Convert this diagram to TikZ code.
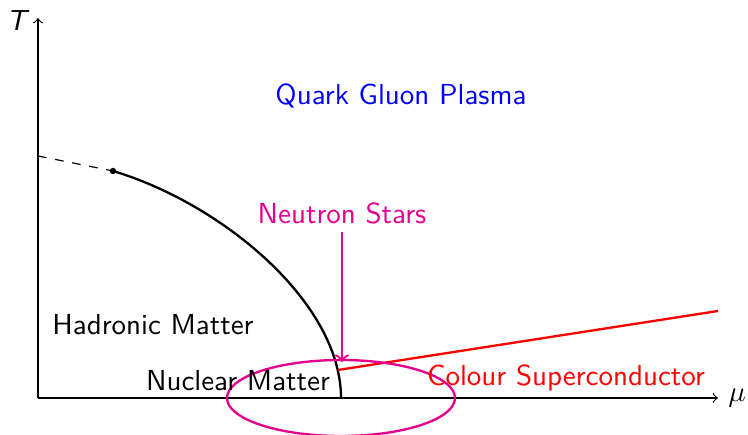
\documentclass[tikz,border=0pt]{standalone}
\usepackage{tikz}
\definecolor{starpink}{RGB}{228,0,140}

\begin{document}
\begin{tikzpicture}[x=0.345pt, y=-0.345pt, font=\sffamily,
    axis/.style={line width=0.4pt, ->},
    border/.style={line width=0.8pt},
    phase/.style={inner sep=1pt}]

  %% axes
  \coordinate (O) at (38,398);
  \coordinate (Ttop) at (38,18);
  \coordinate (Mend) at (718,398);
  \draw[axis] (O) -- (Ttop);
  \draw[axis] (O) -- (Mend);
  \node (Tlab) at (18,21) {\textit{T}};
  \node (Mlab) at (737,398) {$\mu$};

  %% crossover + first order line
  \coordinate (Tc) at (38,156);
  \coordinate (CEP) at (113,171);
  \coordinate (Mc) at (341,398);
  \draw[dashed, line width=0.4pt] (Tc) -- (CEP);
  \fill (CEP) circle (3.2);
  \draw[border] (CEP) .. controls (223,204) and (341,303) .. (Mc);

  %% colour superconductor line
  \coordinate (CSa) at (338,370);
  \coordinate (CSb) at (718,311);
  \draw[border, red] (CSa) -- (CSb);

  %% neutron stars
  \draw[border, starpink] (Mc) ellipse (114 and 38);
  \node[phase, text=starpink] (ns) at (342,213) {Neutron Stars};
  \coordinate (nsTip) at (341,362);
  \draw[border, starpink, ->, shorten <=1.5pt] (ns) -- (ns |- nsTip);

  %% phase labels
  \node[phase, text=blue] (qgp) at (401,96) {Quark Gluon Plasma};
  \node[phase] (had) at (153,325) {Hadronic Matter};
  \node[phase] (nuc) at (238,381) {Nuclear Matter};
  \node[phase, text=red] (csc) at (566,378) {Colour Superconductor};

  \pgfresetboundingbox
  \path[use as bounding box] (0,0) rectangle (748,435);
\end{tikzpicture}
\end{document}
